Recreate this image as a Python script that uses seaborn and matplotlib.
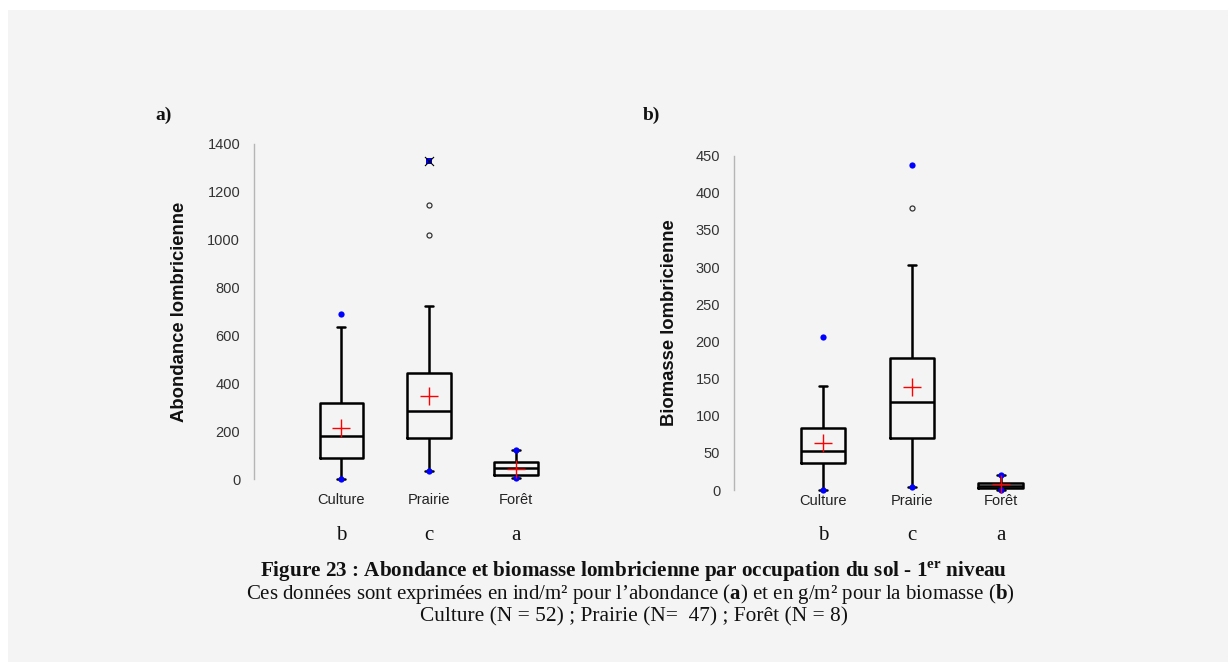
import pandas as pd
import matplotlib
matplotlib.use("Agg")
import matplotlib.pyplot as plt
import matplotlib.transforms as mtransforms
from matplotlib.patches import Rectangle
import seaborn as sns

# --- data ---
categories = ["Culture", "Prairie", "Forêt"]
letters = ["b", "c", "a"]

# a) abondance (ind/m²)
abond_min = [0, 35, 6]
abond_q1 = [88, 174, 18]
abond_med = [182, 285, 47]
abond_q3 = [320, 445, 73]
abond_whisk = [637, 724, 122]
abond_mean = [213, 349, 45]
abond_max = [691, 1329, 122]
abond_out_cat = ["Prairie", "Prairie"]
abond_out_val = [1143, 1018]

# b) biomasse (g/m²)
bio_min = [0, 4, 0]
bio_q1 = [37, 70, 3]
bio_med = [52, 119, 6]
bio_q3 = [83, 178, 10]
bio_whisk = [140, 303, 20]
bio_mean = [63, 138, 8]
bio_max = [206, 437, 20]
bio_out_cat = ["Prairie"]
bio_out_val = [380]

sns.set_theme(style="white")
plt.rcParams["font.family"] = ["Liberation Sans", "DejaVu Sans"]
plt.rcParams["mathtext.fontset"] = "custom"
plt.rcParams["mathtext.rm"] = "Liberation Serif"
plt.rcParams["mathtext.bf"] = "Liberation Serif:bold"

BG = "#f4f4f4"
fig = plt.figure(figsize=(12.31, 6.62), dpi=100, facecolor="white")
fig.patches.append(Rectangle((8 / 1231, 0), 1 - 11 / 1231, 1 - 10 / 662,
                             transform=fig.transFigure, facecolor=BG,
                             edgecolor="none", zorder=-10))


def draw_panel(ax, mins, q1, med, q3, whisk, mean, maxs, out_cat, out_val,
               ymax, yticks, ylabel, xpad, lpad, star=None):
    # five-number summary per category -> quartiles/whiskers reproduced exactly
    rows = []
    for i, c in enumerate(categories):
        for v in (mins[i], q1[i], med[i], q3[i], whisk[i]):
            rows.append({"cat": c, "val": v})
    df = pd.DataFrame(rows)
    sns.boxplot(data=df, x="cat", y="val", order=categories, ax=ax,
                whis=(0, 100), width=0.5, fill=False, color="black",
                linewidth=1.8, showfliers=False, capwidths=0.09)

    # min / max markers (blue)
    sns.stripplot(x=categories, y=mins, order=categories, ax=ax, jitter=False,
                  color="blue", size=4.5, linewidth=0, zorder=5)
    mx_cat = [c for c in categories if c != star]
    mx_val = [maxs[i] for i, c in enumerate(categories) if c != star]
    sns.stripplot(x=mx_cat, y=mx_val, order=categories, ax=ax, jitter=False,
                  color="blue", size=4.5, linewidth=0, zorder=5)
    if star is not None:
        sv = [maxs[categories.index(star)]]
        sns.stripplot(x=[star], y=sv, order=categories, ax=ax, jitter=False,
                      color="blue", marker="s", size=5, linewidth=0, zorder=5)
        sns.stripplot(x=[star], y=sv, order=categories, ax=ax, jitter=False,
                      color="black", marker="x", size=6.5, linewidth=0.8, zorder=6)

    # outliers (open circles)
    sns.stripplot(x=out_cat, y=out_val, order=categories, ax=ax, jitter=False,
                  color=BG, edgecolor="#333333", linewidth=0.9, size=3.6, zorder=5)

    # means (red crosses)
    sns.stripplot(x=categories, y=mean, order=categories, ax=ax, jitter=False,
                  color="red", marker="+", size=13, linewidth=1.0, zorder=6)

    ax.set_xlim(-1, 2.5)
    ax.set_ylim(0, ymax)
    ax.set_yticks(yticks)
    ax.set_facecolor("none")
    for art in ax.get_children():
        try:
            art.set_clip_on(False)
        except Exception:
            pass
    for s in ("top", "right", "bottom"):
        ax.spines[s].set_visible(False)
    ax.spines["left"].set_color("#b5b5b5")
    ax.spines["left"].set_linewidth(1.0)
    ax.tick_params(axis="y", direction="inout", length=9, width=1,
                   color="#b5b5b5", labelsize=10.5, labelcolor="#333333", pad=5.4)
    ax.tick_params(axis="x", length=0, labelsize=10.5, labelcolor="#222222", pad=xpad)
    ax.set_xlabel("")
    ax.set_ylabel(ylabel, fontsize=13.3, fontweight="bold", color="#111111",
                  labelpad=lpad)

    # letters of significance groups below the axis
    trans = mtransforms.blended_transform_factory(ax.transData, fig.transFigure)
    for i, l in enumerate(letters):
        ax.text(i, 1 - 535 / 662, l, transform=trans, ha="center", va="center",
                fontsize=15, family="Liberation Serif", color="#111111")


ax_a = fig.add_axes([254 / 1231, 1 - 479.3 / 662, 306 / 1231, 335.6 / 662])
draw_panel(ax_a, abond_min, abond_q1, abond_med, abond_q3, abond_whisk,
           abond_mean, abond_max, abond_out_cat, abond_out_val,
           1400, range(0, 1401, 200), "Abondance lombricienne", 10, 14,
           star="Prairie")

ax_b = fig.add_axes([734 / 1231, 1 - 490 / 662, 311 / 1231, 334.3 / 662])
draw_panel(ax_b, bio_min, bio_q1, bio_med, bio_q3, bio_whisk,
           bio_mean, bio_max, bio_out_cat, bio_out_val,
           450, range(0, 451, 50), "Biomasse lombricienne", 3, 13)

fig.text(155 / 1231, 1 - 115 / 662, "a)", fontsize=14, fontweight="bold",
         family="Liberation Serif", va="center", ha="left", color="#111111")
fig.text(643 / 1231, 1 - 115 / 662, "b)", fontsize=14, fontweight="bold",
         family="Liberation Serif", va="center", ha="left", color="#111111")

cx = 634 / 1231
fig.text(cx, 1 - 576.7 / 662,
         "Figure 23 : Abondance et biomasse lombricienne par occupation du sol - "
         r"$\mathbf{1}^{\mathbf{er}}$ niveau",
         fontsize=15.25, fontweight="bold", family="Liberation Serif",
         ha="center", va="baseline", color="#111111")
fig.text(630 / 1231, 1 - 599.5 / 662,
         "Ces données sont exprimées en ind/m² pour l’abondance "
         r"($\mathbf{a}$) et en g/m² pour la biomasse ($\mathbf{b}$)",
         fontsize=15, family="Liberation Serif", ha="center", va="baseline",
         color="#111111")
fig.text(cx, 1 - 621.7 / 662,
         "Culture (N = 52) ; Prairie (N=  47) ; Forêt (N = 8)",
         fontsize=15.4, family="Liberation Serif", ha="center", va="baseline",
         color="#111111")

fig.savefig("out.png", dpi=100, facecolor=fig.get_facecolor())
